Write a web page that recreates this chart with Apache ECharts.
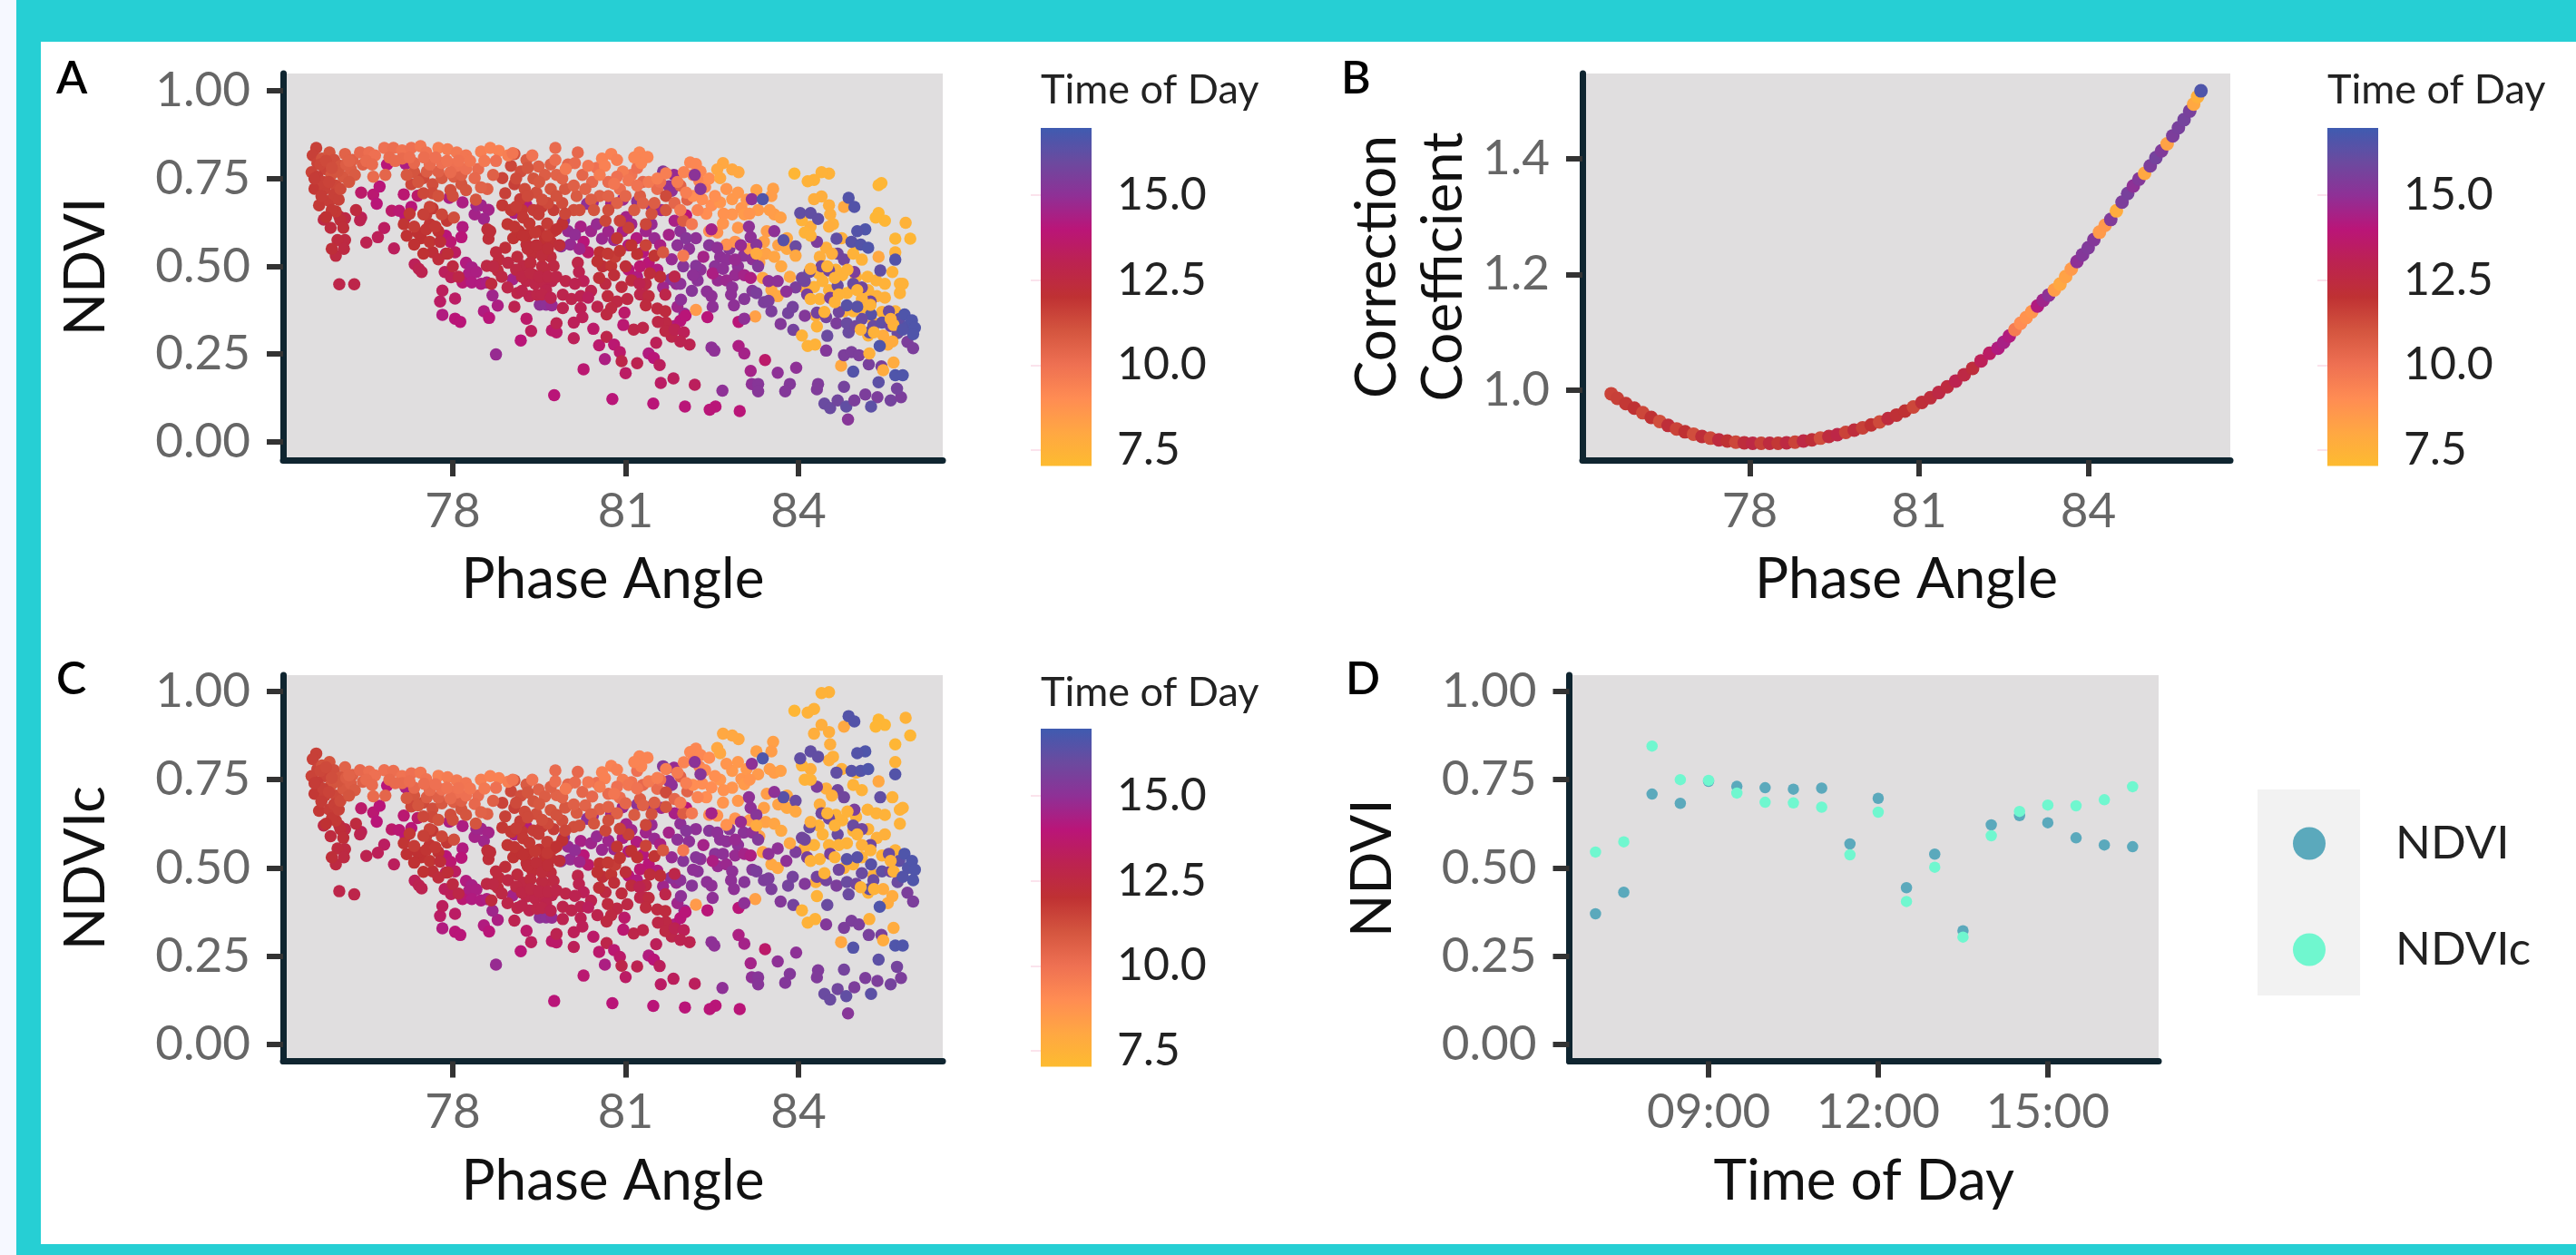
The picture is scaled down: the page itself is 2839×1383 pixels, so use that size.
<!DOCTYPE html>
<html><head><meta charset="utf-8">
<script src="https://cdn.jsdelivr.net/npm/echarts@6/dist/echarts.min.js"></script>
<style>html,body{margin:0;padding:0;background:#fff}#c{width:2839px;height:1383px}</style>
</head><body><div id="c"></div>
<script>
// Rows: [phase angle, NDVI, NDVIc (null where above 1 and absent from panel C), hour]
const magentaObs=[
[79.76,.133,.123,14],[78.75,.249,.226,14.8],[80.77,.122,.117,14],[81.48,.109,.109,14],[82.03,.101,.105,14],[80.27,.207,.195,13.8],[81,.196,.191,13.5],[80.64,.236,.226,14.3],[81.61,.168,.170,13.5],[81.83,.181,.186,13.3],[82.2,.163,.172,13.3],[79.18,.289,.264,14],[79.36,.316,.29,13.3],[79.72,.318,.293,13.6],[79.8,.312,.289,13.6],[79.8,.338,.313,13],[80.1,.295,.276,13.2],[80.44,.322,.305,13.6],[80.54,.275,.262,13.7],[80.67,.299,.287,12.8],[80.8,.277,.267,13.8],[80.9,.256,.248,13.6],[80.93,.23,.223,12.8],[81.2,.224,.221,13],[81.4,.252,.252,14.2],[81.49,.239,.24,14],[81.59,.219,.222,13.3],
[77.82,.362,.329,14.2],[78.04,.351,.319,14],[78.13,.342,.31,14],[77.78,.4,.364,13.5],[77.82,.431,.392,13.3],[78.04,.408,.37,13.5],[77.86,.484,.44,13.3],[77.97,.469,.426,13.2],[77.34,.506,.464,13.2],[77.41,.493,.451,13],[77.46,.484,.442,13],[78.54,.372,.337,14.2],[78.63,.353,.32,14],[78.78,.388,.353,14.3],[78.69,.417,.379,14.6],[79.28,.351,.322,13.6],[79.04,.463,.422,14.5],[79.51,.391,.36,15],[79.62,.391,.36,15],[79.72,.389,.359,14.8],
[78.23,.51,.463,14.2],[78.33,.497,.451,14.4],[78.28,.48,.435,14.3],[78.41,.484,.439,14.3],[78.17,.454,.412,13.8],[78.33,.454,.412,14.2],[78.49,.45,.408,14.2],[78.59,.454,.412,14.3],
[76.41,.71,.669,13.6],[76.41,.639,.602,13.2],[76.39,.631,.595,13],[76.62,.704,.657,13.8],[76.73,.727,.676,14],[76.68,.678,.631,14],[76.86,.79,.733,14],[77.18,.792,.728,14.3],[77.15,.705,.648,13.8],[77.39,.701,.641,13.6],[76.94,.658,.609,13.6],[77.07,.658,.607,13.8],[77.28,.669,.613,14],[77.18,.641,.589,14],[76.81,.609,.566,13.4],[76.7,.583,.543,13.2],[76.5,.568,.534,13],[76.98,.551,.51,13.3],
[77.94,.695,.631,14.3],[78.17,.682,.619,14.3],[78.49,.674,.611,14.6],[78.62,.661,.6,14.5],[78.54,.635,.576,14.6],[78.38,.648,.588,14.5],[78.41,.674,.611,14.6],[78.17,.612,.555,14.2],[78.15,.583,.529,14],[77.88,.587,.533,14],[77.96,.57,.517,13.8],[78.04,.54,.49,13.4],[77.88,.536,.487,13.2],[79.07,.652,.595,14.4],[79.28,.674,.617,14.2],
[80.33,.678,.639,15],[80.43,.682,.647,14.8],[79.93,.63,.587,15],[79.88,.557,.519,15],[80.04,.562,.524,14.8],[80.22,.613,.576,14.4],[80.27,.57,.536,14],[80.35,.54,.509,13.6],[80.59,.579,.551,14.7],[80.8,.575,.553,14.7],[80.75,.678,.652,14.6],[81.01,.64,.624,14.5],[81.19,.58,.574,14.2],[81.3,.54,.538,14.1],[81.05,.49,.478,14],[81.2,.47,.465,14.2],[81.45,.62,.622,14.8],[81.62,.66,.67,14.6],[81.75,.59,.6,14.5],[81.85,.63,.655,14.4],[81.88,.45,.458,14.8],[81.78,.463,.472,15],[81.95,.45,.465,15],[82.05,.645,.67,14],[82.1,.55,.575,15],[82.22,.58,.61,15],[82.15,.43,.45,15.2],[82.02,.365,.38,15],[81.9,.385,.4,14.6],[81.96,.405,.42,15],[81.85,.33,.34,14.2],[81.95,.345,.358,14],[82.04,.36,.375,14],
[81.75,.728,.746,15],[81.84,.76,.784,14.8],[81.65,.77,.788,15.3],[81.8,.715,.735,15],[81.45,.67,.674,14.9],[81.2,.685,.68,15.1],[80.95,.69,.672,14.7],
[80,.6,.56,14.8],[80.12,.59,.55,14.9],[80.2,.55,.517,14.6],[80.4,.6,.57,14.6],[80.5,.62,.589,14.8],[80.7,.6,.577,14.6],[80.95,.6,.585,14.4],[81.1,.62,.607,14.6],[81.35,.6,.6,14.6],[81.5,.58,.583,14.8],[81.6,.56,.567,14.4],[81.4,.51,.51,14],[81.55,.49,.492,14.2],[81.65,.44,.448,14.6],[81.25,.5,.496,13.8],[81.05,.56,.547,14.2],[81.9,.56,.58,15],[82,.5,.52,15.2],[81.8,.52,.53,14.8],[81.95,.6,.625,15],[82.05,.58,.605,15.2],[82.3,.49,.525,15],[82.45,.56,.605,15.2],[82.55,.5,.54,15.1],[82.8,.55,.61,15.2],[82.95,.5,.565,15],[83.05,.53,.6,15.1],[82.6,.46,.505,14.8],[82.75,.46,.51,14.7],[82.85,.44,.49,15],[83.2,.43,.495,15.3],[82.25,.46,.49,15.1]];

const redObs=[
[75.76,.633,.62,12.6],[76.03,.642,.62,12.4],[76.13,.637,.61,12.6],[76.03,.449,.434,12.8],[76.29,.449,.425,12.8],[76.32,.66,.625,12.4],[76.05,.632,.61,12.2],[75.88,.61,.59,12.4],[76.1,.61,.585,12.2],[76.13,.575,.553,12.5],[76,.575,.555,12.4],[75.97,.53,.51,12.5],[75.9,.55,.53,12.2],[76.11,.55,.53,12.5],
[78.6,.605,.549,12.2],[78.62,.579,.525,12.2],[78.91,.553,.503,12.2],[78.8,.519,.472,12.4],[78.59,.501,.455,12.6],[78.78,.488,.444,12.4],[78.67,.45,.408,12.4],
[79.12,.527,.481,12.4],[79.22,.501,.458,12.6],[79.38,.536,.492,12.2],[79.54,.553,.51,12.3],[79.7,.527,.487,12.4],[79.75,.501,.463,12.6],[79.59,.493,.455,12.5],[79.41,.475,.436,12.6],[79.28,.458,.419,12.8],[79.43,.45,.413,12.8],[79.59,.45,.415,12.8],[79.72,.458,.423,12.9],[79.12,.424,.387,12.8],[79.07,.385,.351,13],[79.33,.415,.38,13],[79.46,.419,.385,12.8],[79.62,.432,.399,12.9],[79.49,.553,.508,12.2],[79.28,.562,.514,12.2],[78.96,.51,.465,12.6],[79.5,.6,.552,12],[79.6,.58,.535,12],[79.3,.59,.54,12],[79.7,.57,.527,12.1],[79.35,.51,.468,12.4],[79.55,.5,.461,12.5],
[78.95,.62,.565,11.9],[79.05,.58,.53,12],[79.15,.6,.548,12],[79.3,.55,.505,12.2],[79.45,.56,.515,12.2],[79.55,.53,.488,12.3],[79.65,.55,.507,12.2],[79.75,.6,.555,11.9],[79.85,.56,.52,12.2],[79.1,.49,.447,12.6],[79.2,.47,.43,12.7],[79.35,.48,.44,12.6],[79.5,.47,.433,12.7],[79.65,.47,.433,12.7],[79.8,.47,.436,12.8],[78.85,.47,.428,12.6],[78.95,.44,.4,12.8],[79.2,.43,.393,12.9],[79.55,.42,.387,12.8],[79.7,.41,.379,13],[79.02,.66,.602,11.9],[79.2,.66,.603,11.8],[79.4,.66,.606,11.7],[79.55,.67,.617,11.7],[79.75,.66,.61,11.7],[79.9,.62,.578,12],
[77.15,.62,.57,11.9],[77.25,.65,.597,11.8],[77.45,.58,.53,12],[77.6,.62,.565,11.9],[77.75,.6,.545,12],[77.9,.63,.572,11.8],[77.65,.54,.49,12.2],[77.75,.52,.473,12.3],[78,.5,.454,12.5],[78.1,.47,.427,12.7],[78.7,.5,.454,12.6],[78.75,.54,.49,12.4],[78.65,.6,.545,12.2],
[80.55,.54,.513,12],[80.6,.5,.475,12.2],[80.65,.45,.431,12.5],[80.85,.58,.56,11.9],[81,.5,.488,12.2],[81.1,.46,.45,12.4],[81.1,.56,.548,12],[81.25,.42,.416,12.8],[81.35,.45,.451,12.6],[80.85,.4,.385,12.6],[80.4,.43,.407,13],[80.1,.34,.318,13.2],[81.55,.38,.382,12.5],[81.7,.34,.347,12.6],[81.8,.3,.306,12.8],
[79.01,.786,.717,11.4],[78.86,.751,.684,11.5],[79.07,.734,.67,11.6],[78.91,.708,.646,11.6],[79.17,.691,.632,11.7],[78.86,.674,.614,11.8],[79.01,.661,.603,11.8],[79.22,.639,.584,11.8],[79.07,.613,.559,11.9],[79.33,.622,.571,11.8],[79.49,.648,.596,11.7],[79.64,.622,.574,11.7],[79.43,.596,.547,11.8],[79.64,.587,.542,11.8],[79.8,.605,.56,12],[79.22,.587,.537,12],
[80.17,.51,.478,12.8],[80.19,.484,.454,13],[80.27,.458,.431,13.2],[79.96,.458,.427,12.8],[80.12,.45,.421,13],[79.91,.419,.39,12.9],[80.06,.407,.38,12.9],[80.22,.415,.39,13],[79.91,.381,.355,13],[80.22,.381,.358,13.1],[80.35,.411,.388,13.3],[80.25,.355,.334,13.2],[80.51,.385,.366,12.9],[80.69,.415,.398,12.4],[80.75,.381,.366,12.5],[80.67,.363,.348,12.5],[80.51,.514,.488,12],[80.54,.467,.444,12.2],[80.75,.501,.482,11.9],[80.82,.527,.509,11.7],[80.69,.536,.515,11.8],[80.9,.544,.528,11.9],[80.8,.475,.458,12.2],[80.93,.441,.428,12.4],[81.03,.407,.397,12.6],[81.24,.45,.446,13],[81.32,.419,.417,12.8],[81.4,.415,.415,12.4],[81.35,.389,.388,12.4],[81.14,.32,.314,12.8],[81.3,.325,.324,12.8],[80.98,.368,.359,13.6],[80.96,.333,.325,13.8],[81.69,.419,.425,12.8],[81.69,.372,.378,12.4],[81.85,.471,.483,12.8],[81.56,.342,.345,12.7],[81.69,.316,.321,12.6],[81.85,.32,.329,13],[82.01,.312,.324,13.2],[82.11,.277,.29,13],[81.95,.286,.296,13],[81.53,.282,.284,13.2],[81.6,.47,.478,12.2],[81.42,.48,.481,12.3],[81.2,.535,.53,12],[81.35,.56,.563,11.5],[81.5,.53,.533,11.9],
[77.39,.596,.545,12],[77.54,.605,.551,11.9],[77.2,.587,.539,12],[77.33,.562,.515,12],[77.49,.536,.489,12],[77.6,.57,.52,11.9],[77.78,.57,.518,12.2],[77.91,.536,.487,12.2],[77.7,.613,.558,11.8],[77.54,.648,.591,11.7],[77.65,.665,.605,11.8]];

const orangeRedObs=[
[75.63,.837,.824,11.6],[75.57,.816,.808,11.6],[75.65,.794,.78,11.5],[75.55,.768,.76,11.5],[75.73,.807,.79,11.1],[75.86,.824,.8,11],[75.94,.803,.777,11.2],[75.78,.777,.76,11.5],[75.65,.755,.742,11.7],[75.89,.76,.735,11],[75.6,.721,.71,11.8],[75.78,.721,.705,11.6],[75.97,.73,.705,11.4],[76.1,.755,.724,10.9],[75.68,.674,.662,11.8],[75.86,.686,.665,11.7],[75.94,.704,.68,11.6],[75.97,.656,.634,11.8],[76.13,.82,.785,10.5],[76.26,.803,.763,10.6],[76.39,.824,.777,10.3],[76.23,.777,.739,10.7],[76.05,.786,.756,11],[76.55,.824,.773,10.1],[76.65,.816,.762,10],[76.44,.79,.744,10.6],
[75.7,.79,.775,11.4],[75.8,.8,.785,11.3],[75.75,.74,.725,11.6],[75.6,.75,.74,11.7],[75.85,.74,.715,11.5],[76,.77,.745,11],[76.15,.79,.755,10.7],[76.3,.76,.72,10.8],[76.2,.8,.762,10.5],[76.5,.8,.75,10.2],[76.6,.79,.735,10.2],[75.9,.78,.755,11.2],[75.72,.7,.688,11.7],[75.9,.66,.64,11.8],[75.8,.64,.625,12],[76.02,.69,.665,11.6],[76.05,.72,.69,11.3],[76.2,.74,.705,11],
[77.33,.768,.705,11],[77.49,.751,.685,11.3],[77.28,.734,.674,11.4],[77.65,.734,.668,11.2],[77.81,.751,.683,10.9],[78.02,.755,.686,10.7],[78.15,.734,.666,11],[77.96,.717,.651,11.2],[77.65,.708,.644,11.3],[78.23,.717,.65,11],[77.49,.708,.646,11.4],[77.6,.669,.61,11.5],[77.81,.648,.589,11.4],[78.02,.639,.58,11.2],[77.49,.648,.591,11.6],[77.33,.613,.562,11.7],
[78.7,.76,.69,10.6],[78.6,.72,.653,10.6],[78.4,.69,.626,11],[78,.7,.636,11.2],[77.75,.7,.636,11.1],[77.4,.74,.677,11],[77.2,.76,.698,10.9],[77.55,.77,.7,10.7],[77.75,.77,.7,10.6],[78.15,.76,.69,10.6],
[79.07,.82,.748,11.1],[79.28,.803,.736,10.8],[79.49,.784,.722,10.6],[79.18,.77,.704,11.2],[79.4,.75,.689,11],[79.6,.76,.702,10.7],[79.8,.76,.706,10.5],[79.95,.72,.671,10.9],[79.7,.72,.664,11],[79.45,.71,.653,11.2],[79.25,.72,.659,11.3],[79.65,.68,.626,11.3],[79.9,.68,.634,11.2],[80.15,.7,.656,10.8],[80.1,.66,.616,11.2],[80.42,.74,.702,10.3],[80.7,.74,.71,10.2],[80.55,.7,.666,10.6],[80.9,.72,.699,10.1],[81.1,.76,.743,9.9],[81.3,.74,.735,10.3],[81.25,.7,.695,10.7],[81.55,.72,.724,10.2],[81.45,.65,.653,11.1],[81.7,.66,.673,11],[81.35,.62,.622,11.4],[81.05,.61,.595,11.6],[80.9,.63,.611,11.5],[80.65,.63,.606,11.4],[81.65,.54,.55,10.9],[82,.63,.655,10.7],[82.07,.69,.717,10.5],[81.7,.7,.714,11.3],[81.95,.73,.759,10.5],
[79.1,.75,.685,11.3],[79.3,.78,.714,11],[79.5,.74,.681,10.9],[79.7,.79,.729,10.6],[79.9,.75,.7,10.5],[80,.79,.736,10.4],[80.1,.73,.68,10.6],[80.25,.76,.715,10.4],[80.3,.72,.677,10.5],[80.4,.69,.652,10.7],[80.5,.78,.741,10],[80.7,.7,.673,10.5],[80.85,.68,.655,10.6],[81,.7,.683,10.4],[81.15,.66,.65,10.8],[81.3,.68,.678,10.6],[81.5,.68,.685,10.7],[81.6,.74,.75,10],[81.85,.68,.695,10.4],[81.2,.78,.775,10],[79.3,.7,.643,11.3],[79.55,.69,.636,11.2],[79.8,.7,.65,11.1],[79.1,.67,.612,11.7],[79.95,.65,.606,11.4],[80.2,.66,.62,11.2],[80.45,.66,.626,11],[80.7,.66,.635,11.2]];

const orangeObs=[
[76.81,.837,.777,10],[76.97,.837,.775,10.1],[77.12,.83,.76,9.9],[77.28,.837,.768,10],[77.44,.842,.77,9.8],[77.54,.824,.751,9.9],[77.75,.837,.761,9.5],[77.91,.833,.757,9.6],[78.07,.824,.748,9.7],[78.23,.816,.74,9.8],[78.49,.827,.75,9.5],[78.65,.837,.76,9.4],[78.8,.829,.754,9.4],[78.96,.816,.744,9.5],[79.04,.822,.75,9.8],[79.38,.816,.75,9.9],[79.78,.837,.776,10.2],[79.78,.803,.745,10.1],[80.17,.824,.772,10.3],[80.12,.794,.742,10.2],[80.35,.786,.743,9.8],[79.96,.777,.724,9.7],[80.59,.807,.771,9.4],[80.75,.82,.789,9.4],[80.85,.803,.778,9.5],[80.64,.786,.754,9.4],[81.24,.824,.816,9.3],[81.38,.811,.812,9.3],[81.27,.794,.788,9.3],[81.15,.81,.8,9.3],
[77.12,.807,.74,10.2],[77.33,.794,.727,10.3],[77.6,.79,.72,10.2],[77.81,.794,.722,10],[78.07,.786,.714,10],[78.23,.777,.705,10],[78.44,.777,.705,10.2],[78.38,.751,.681,10.3],[78.49,.725,.658,10.5],[77.96,.768,.697,10.2],[76.62,.755,.703,10.2],[76.83,.76,.705,10.4],
[76.9,.81,.75,10.2],[77,.8,.74,10.2],[77.25,.81,.745,10.1],[77.5,.81,.738,10.1],[77.7,.81,.737,10],[77.9,.8,.727,9.9],[78.1,.8,.726,9.9],[78.3,.8,.725,9.8],[78.55,.8,.725,9.7],[78.75,.8,.727,10],
[80.95,.77,.75,9.6],[81.05,.745,.735,9.8],[80.85,.755,.73,10],[81.2,.73,.725,9.9],[81.4,.74,.745,9.7],[81.55,.75,.755,9.5],[81.7,.765,.78,9.5],[81.9,.74,.77,9.6],[80.55,.76,.73,9.6],[80.8,.735,.71,9.8],
[82.12,.796,.828,9.2],[82.22,.791,.838,9.2],[82.01,.768,.799,9.3],[82.17,.76,.803,9.3],[82.28,.742,.787,9.3],[82.38,.726,.777,9.1],[82.17,.7,.735,9],[82.33,.691,.739,9],[82.49,.674,.728,9],[82.64,.682,.75,8.7],[82.85,.691,.775,8.6],[83.01,.665,.752,8.7],[82.85,.648,.727,8.7],[83.27,.717,.83,8.3],[83.56,.721,.857,8.3],[83.53,.7,.83,8.4],[82.9,.57,.64,8.7],[82.75,.562,.622,8.8],[82.69,.622,.685,8.7],[82.59,.596,.648,8.8],[83.06,.648,.737,8.5],[83.58,.648,.77,8.4],[83.69,.639,.775,8.3],[83.27,.536,.62,8.3],[83.43,.536,.63,8.2],[83.58,.527,.625,8.1],[83.32,.511,.59,8.3],[83.38,.467,.545,8],[83.53,.433,.51,8],[83.64,.415,.5,8],[82.22,.376,.396,8.5],[83.25,.357,.412,8.3],[82,.53,.55,9.7],
[82.05,.71,.74,9.5],[82.3,.77,.82,9.2],[82.45,.75,.812,9],[82.55,.7,.76,8.9],[82.75,.72,.795,8.7],[82.95,.71,.8,8.6],[83.1,.69,.78,8.6],[83.3,.66,.765,8.5],[83.5,.66,.78,8.4],[83.15,.65,.75,8.7],[82.7,.65,.72,8.8],[82.4,.65,.7,9],[82.25,.66,.7,9.3],[81.95,.66,.685,9.7],[82.15,.62,.655,9.7],[82.45,.6,.65,9],[82.95,.61,.69,8.6],[83.45,.6,.71,8.4],[83.65,.56,.68,8.2],[83.4,.57,.67,8.3],[83.8,.55,.67,8],[83.15,.55,.635,8.5]];

const purpleObs=[
[82.68,.146,.16,15],[82.56,.101,.11,14],[82.46,.092,.1,14],[82.98,.088,.1,14],[82.49,.269,.29,15],[82.54,.26,.28,15],[82.96,.273,.31,14.3],[83.06,.252,.285,14.5],[83.42,.233,.27,13.6],[83.17,.202,.23,14.5],[83.64,.197,.235,15],[83.96,.211,.26,15],[83.19,.165,.19,15],[83.3,.165,.19,15.2],[83.3,.144,.17,15.2],[83.85,.165,.2,15.3],[83.77,.144,.175,15.3],[84.34,.165,.21,15.4],[84.32,.15,.19,15.4],[84.45,.109,.143,16],[84.55,.096,.127,16],[84.68,.118,.157,15.8],[84.83,.101,.137,16.2],[84.97,.118,.162,15.5],[84.86,.064,.088,15.2],[84.79,.157,.212,15.7],[84.95,.2,.274,16.5],[85.16,.135,.188,15.5],[85.37,.127,.18,15.5],[85.26,.101,.143,16.3],[85.6,.118,.17,15.7],[85.78,.127,.188,15.5],[85.71,.152,.22,15.7],[85.39,.17,.24,16.3],[85.68,.19,.28,16.6],[85.81,.19,.28,16.6],[85.22,.221,.31,15.6],[85.44,.215,.31,15.6],[84.48,.26,.34,15.3],[84.79,.247,.33,15.5],[84.92,.256,.35,15.5],[85.05,.247,.34,15.5],[85.41,.273,.39,16.6],
[82.41,.428,.46,15],[82.49,.415,.45,15],[82.51,.385,.415,15],[82.42,.355,.38,14],[82.96,.342,.387,14],[83.06,.351,.4,15],[82.83,.419,.465,15],[82.88,.389,.44,15],[83.06,.407,.46,15.2],[83.27,.424,.49,15.5],[83.4,.398,.465,15.5],[83.53,.372,.44,15.5],[83.48,.402,.47,15.5],[83.69,.336,.405,15.3],[83.91,.319,.395,15.7],[83.82,.367,.45,15.7],[83.9,.384,.475,15.7],[84.11,.359,.455,15.3],[84.32,.368,.475,15.7],[84.48,.355,.465,15.7],[84.5,.302,.395,16],[84.66,.338,.45,15.5],[84.87,.312,.425,16],[84.84,.338,.46,16],[85.23,.312,.44,16.2],[85.26,.363,.51,16.4],[85.57,.372,.54,16],[85.89,.285,.43,15.5],[85.99,.267,.405,15.5],
[85,.33,.455,15.8],[85.1,.35,.485,16],[85.3,.33,.465,16],[85.45,.34,.49,16.2],[85.6,.33,.49,15.8],[85.75,.35,.52,16.2],[85.9,.33,.5,16.5],[85.72,.31,.46,16],[84.7,.37,.495,15.8],[84.55,.41,.54,15.6],[84.15,.42,.53,15.6],[83.95,.44,.545,15.5],[84.4,.5,.655,15.8],[84.95,.45,.62,16],[85.1,.44,.61,15.8],[85.25,.4,.565,15.8],[83,.56,.63,14.8],[83.2,.52,.6,15],[83.3,.5,.58,15.3],
[83.95,.557,.69,16],[83.74,.574,.7,16.4],[84.68,.536,.72,15.8],[84.79,.519,.7,15.8],[84.97,.484,.665,15.5],[84.53,.488,.64,15.8],[84.68,.445,.595,16],[84.11,.458,.58,15.8],[84.06,.467,.585,15.8],[84.19,.484,.615,16],[84.32,.57,.73,15.5],[83.19,.691,.795,15],
[82.22,.501,.53,15.2],[82.17,.475,.495,15],[82.35,.527,.565,14.5],[82.51,.48,.52,14.3],[82.49,.605,.655,14.5],[82.64,.527,.58,15],[82.75,.519,.575,15],[82.69,.493,.54,15],[82.9,.519,.58,14.8],[82.9,.475,.535,14.8],[83.06,.475,.54,14.5],[83.17,.467,.535,14.3],[83.14,.613,.7,15],[83.17,.583,.67,15],[83.27,.561,.65,15.2],[83.48,.458,.54,15],[83.64,.458,.555,15],[83.79,.428,.52,15],[83.58,.6,.715,15],[82.59,.553,.6,15],[82.2,.76,.8,15.1],[82.3,.72,.765,15.2]];

const yellowObs=[
[83.93,.764,.945,7.3],[84.16,.742,.94,7.5],[84.27,.746,.95,7.5],[84.4,.768,.995,7.5],[84.53,.764,.998,7.5],[85.44,.737,null,7.3],[85.39,.731,null,7.3],[84.27,.691,.88,7.7],[84.4,.699,.905,7.7],[84.53,.674,.885,7.7],[84.55,.648,.85,7.7],[84.53,.613,.805,7.7],[84.21,.613,.78,7.7],[84.79,.669,.9,8],[85.39,.652,.92,7.3],[85.34,.639,.9,7.3],[85.5,.63,.905,7.3],[85.86,.624,.925,7.5],[85.68,.579,.85,7.3],[85.94,.579,.875,7.3],[85.39,.527,.745,8],[85.68,.54,.8,7.5],[85.63,.484,.7,7.5],[85.76,.45,.665,7.5],[85.81,.45,.67,7.5],[85.76,.424,.625,7.5],[85.1,.519,.72,7.5],[84.95,.536,.735,7.5],[84.48,.553,.725,7.7],[84.58,.536,.705,7.7],[84.37,.527,.68,7.7],[84.21,.493,.63,7.7],[84.27,.441,.565,7.5],[84.42,.458,.595,7.5],[84.53,.432,.565,7.5],[84.63,.467,.62,7.5],[84.76,.475,.635,7.5],[84.21,.407,.52,7.5],[84.37,.407,.525,7.5],[84.63,.398,.53,7.5],[84.84,.424,.57,7.5],[85.02,.432,.595,7.5],[85.21,.432,.61,7.5],[85.1,.407,.565,7.6],[85.36,.415,.585,7.6],[85.5,.411,.595,7.6],[84.79,.372,.5,7.5],[84.95,.372,.51,7.5],[85.1,.381,.53,7.5],[85.08,.32,.445,7.5],[85.21,.303,.43,7.5],[85.31,.312,.44,7.5],[85.47,.303,.44,7.8],[85.63,.286,.42,7.8],[85.55,.277,.4,7.8],[85.65,.333,.49,7.5],[84.32,.329,.42,7.5],[84.06,.303,.38,7.5],[84.16,.273,.345,7.5],[84.29,.277,.355,7.5],[84.74,.217,.29,8],[85.23,.252,.355,7.6],[85.65,.226,.33,7.8],[85.47,.204,.295,7.8],[85.68,.372,.55,7.5],[84.06,.631,.79,7.5],[84.11,.596,.75,7.5],[84.21,.587,.75,7.5],
[84.35,.48,.62,7.5],[84.5,.5,.655,7.5],[84.65,.49,.65,7.5],[84.85,.49,.66,7.5],[85,.47,.645,7.5],[85.2,.47,.665,7.5],[85.35,.46,.655,7.5],[85.5,.45,.65,7.5],[84.95,.44,.605,7.5],[85.25,.39,.55,7.5],[85.45,.37,.535,7.5],[85.6,.35,.52,7.6],[85.3,.34,.48,7.5],[84.7,.42,.565,7.5],[84.3,.36,.46,7.6],[84.45,.37,.485,7.5],[84.1,.44,.555,7.6],[84.75,.58,.78,7.6],[84.6,.62,.815,7.6],[85,.56,.77,7.4],
[82.69,.794,.88,8],[82.85,.776,.875,8],[82.96,.768,.865,8],[82.64,.751,.825,8],[82.59,.776,.84,8],[83.27,.536,.62,7.9],[83.8,.58,.705,8],[83.95,.53,.66,8],[83.7,.5,.605,8],[83.85,.47,.57,8]];

const blueObs=[
[84.87,.695,.93,16.5],[84.97,.669,.915,16.5],[83.38,.691,.81,16.6],[84.03,.652,.81,16.2],[84.21,.652,.83,16.2],[84.34,.635,.815,16.2],[85.16,.605,.83,16.6],[85.02,.6,.825,16.5],[84.92,.57,.775,16.4],[85.08,.562,.775,16.5],[85.21,.553,.78,16.6],[84.66,.579,.77,16.2],[85.42,.488,.7,16.2],[85.68,.519,.765,16.5],[85.02,.385,.53,16.4],[84.84,.389,.525,16.4],[85.84,.363,.54,16.6],[85.97,.346,.52,16.6],[86.02,.325,.495,16.6],[85.99,.307,.465,16.6],[85.81,.32,.475,16.5]];

// Panel B: phase angle, correction coefficient, hour
const bPhase=[75.54,75.65,75.8,75.95,76.1,76.25,76.4,76.55,76.7,76.85,77,77.15,77.3,77.45,77.6,77.75,77.9,78.05,78.2,78.35,78.5,78.65,78.8,78.95,79.1,79.25,79.4,79.55,79.7,79.85,80,80.15,80.3,80.45,80.6,80.75,80.9,81.05,81.2,81.35,81.5,81.65,81.8,81.95,82.1,82.25,82.4,82.5,82.6,82.7,82.8,82.9,83,83.1,83.2,83.3,83.4,83.5,83.6,83.7,83.8,83.9,84,84.1,84.2,84.3,84.4,84.5,84.6,84.7,84.8,84.9,85,85.1,85.2,85.3,85.4,85.5,85.6,85.7,85.8,85.87,85.94,86];
const bCoef=[.993,.985,.976,.968,.96,.952,.945,.938,.932,.927,.923,.919,.916,.913,.911,.909,.908,.907,.907,.907,.907,.908,.909,.911,.913,.916,.919,.922,.926,.93,.934,.939,.944,.95,.956,.963,.97,.978,.986,.995,1.005,1.015,1.026,1.037,1.05,1.063,1.072,1.082,1.093,1.104,1.115,1.125,1.135,1.145,1.155,1.164,1.173,1.183,1.196,1.209,1.222,1.234,1.246,1.26,1.273,1.285,1.295,1.31,1.325,1.34,1.353,1.365,1.375,1.388,1.402,1.414,1.426,1.44,1.454,1.468,1.483,1.495,1.508,1.518];
const bHour=[11.5,11.6,11.8,12,11.4,12,11.2,12.2,11.5,12,11.2,12.2,11.4,12.4,12,11.4,12.3,12.6,11.6,12.4,11.8,12.5,11.5,12.6,12.2,11.2,12.4,12.7,11.5,12.3,11.6,12,11.3,12.4,12.1,12,11.4,12.2,12.3,12.6,12.4,13,12.6,12.3,13.2,13.5,14.2,14.4,14.2,9.6,9,8.8,8.7,14.2,14.6,15,8.4,8,8.2,8.5,15,15.3,15.4,15.3,8.5,8.6,15.4,7.8,15.5,15.6,15,15.3,8,15.5,15.7,15.4,8.2,15.5,15.6,15.7,15.6,8,7.6,16.6];

// Panel D: half-hourly means
const dHour=[7,7.5,8,8.5,9,9.5,10,10.5,11,11.5,12,12.5,13,13.5,14,14.5,15,15.5,16,16.5];
const dNdvi=[.37,.431,.709,.683,.745,.731,.727,.723,.726,.568,.697,.444,.539,.322,.622,.648,.628,.585,.565,.56];
const dNdvic=[.545,.574,.845,.75,.748,.712,.686,.684,.672,.537,.658,.405,.502,.304,.591,.66,.678,.676,.693,.73];

const phaseTicks=[78,81,84];
const ndviTicks=[0,.25,.5,.75,1];
const coefTicks=[1,1.2,1.4];
const hourTicks=[9,12,15];
const colorTicks=[7.5,10,12.5,15];
const timeColors=['#FDBB30','#FFA743','#FF8C53','#EE7052','#D4553F','#BF3133','#BC2350','#BA1578','#8F3096','#6B4A9F','#3F5BB0'];
const hourRange=[7.04,16.96];

// Draw order: morning dots on the right sit both under and over the afternoon ones
const yellowUnder=yellowObs.filter((r,i)=>i%2===0), yellowOver=yellowObs.filter((r,i)=>i%2===1);
const obs=[...magentaObs,...redObs,...orangeRedObs,...orangeObs,...yellowUnder,...purpleObs,...yellowOver,...blueObs];
const font='Lato';
const dark='#0F2530', tick='#333333', plotBg='#E0DEDF';
const tickText={fontFamily:font,fontSize:53,color:'#666',fontWeight:400};
const nameText={fontFamily:font,fontSize:62,color:'#111',fontWeight:400};
const grids=[
 {left:312,top:81,width:727,height:426},
 {left:1744,top:81,width:714,height:426},
 {left:312,top:744,width:727,height:425.5},
 {left:1729.5,top:744,width:649.5,height:425.5},
];
grids.forEach(g=>{g.show=true;g.backgroundColor=plotBg;g.borderWidth=0;});
function xA(i,min,max,ticks,name,fmt){return {type:'value',gridIndex:i,min,max,name,nameLocation:'middle',nameGap:101,nameTextStyle:nameText,
 axisLine:{show:true,onZero:false,lineStyle:{color:dark,width:7}},splitLine:{show:false},
 axisTick:{show:true,length:18,customValues:ticks,lineStyle:{color:tick,width:6}},
 axisLabel:{...tickText,margin:30,customValues:ticks,formatter:fmt}};}
function yA(i,min,max,ticks,name,fmt,gap){return {type:'value',gridIndex:i,min,max,name,nameLocation:'middle',nameGap:gap,nameRotate:90,nameTextStyle:{...nameText,fontSize:62,lineHeight:73},
 axisLine:{show:true,onZero:false,lineStyle:{color:dark,width:7}},splitLine:{show:false},
 axisTick:{show:true,length:18,customValues:ticks,lineStyle:{color:tick,width:6}},
 axisLabel:{...tickText,margin:36,customValues:ticks,formatter:fmt}};}
const f0=v=>String(v), f2=v=>v.toFixed(2), f1=v=>v.toFixed(1), fh=v=>(v<10?'0':'')+v+':00';
const xAxes=[
 xA(0,75.055,86.504,phaseTicks,'Phase Angle',f0),
 xA(1,75.03,86.52,phaseTicks,'Phase Angle',f0),
 xA(2,75.055,86.504,phaseTicks,'Phase Angle',f0),
 xA(3,6.536,16.96,hourTicks,'Time of Day',fh),
];
const yAxes=[
 yA(0,-.0517,1.049,ndviTicks,'NDVI',f2,181),
 yA(1,.878,1.548,coefTicks,'Correction\nCoefficient',f1,117),
 yA(2,-.0476,1.046,ndviTicks,'NDVIc',f2,181),
 yA(3,-.0476,1.046,ndviTicks,'NDVI',f2,180),
];
// Colour bars: small grids with their own value axis
const barStops=timeColors.map((c,i)=>({offset:1-i/(timeColors.length-1),color:c}));
const barGrad=new echarts.graphic.LinearGradient(0,0,0,1,barStops);
[[1147,141],[2565,141],[1147,803]].forEach(([l,t])=>{
 const gi=grids.length;
 grids.push({left:l,top:t,width:56,height:372.5,show:true,backgroundColor:barGrad,borderWidth:0,z:2});
 xAxes.push({type:'value',gridIndex:gi,min:0,max:1,show:false});
 const base={type:'value',gridIndex:gi,min:hourRange[0],max:hourRange[1],splitLine:{show:false},axisLine:{show:false}};
 yAxes.push({...base,position:'right',
   axisTick:{show:true,inside:true,length:11,customValues:colorTicks,lineStyle:{color:'#FBE3EC',width:2}},
   axisLabel:{fontFamily:font,fontSize:50,color:'#222',fontWeight:400,margin:28,customValues:colorTicks,formatter:f1}});
 yAxes.push({...base,position:'left',
   axisTick:{show:true,inside:true,length:11,customValues:colorTicks,lineStyle:{color:'#FBE3EC',width:2}},
   axisLabel:{show:false}});
});
const sym=13.5;
const series=[
 {type:'scatter',xAxisIndex:0,yAxisIndex:0,symbolSize:sym,data:obs.map(r=>[r[0],r[1],r[3]]),encode:{x:0,y:1},itemStyle:{opacity:1}},
 {type:'scatter',xAxisIndex:1,yAxisIndex:1,symbolSize:15,data:bPhase.map((p,i)=>[p,bCoef[i],bHour[i]]),encode:{x:0,y:1},itemStyle:{opacity:1}},
 {type:'scatter',xAxisIndex:2,yAxisIndex:2,symbolSize:sym,data:obs.filter(r=>r[2]!==null).map(r=>[r[0],r[2],r[3]]),encode:{x:0,y:1},itemStyle:{opacity:1}},
 {type:'scatter',name:'NDVI',xAxisIndex:3,yAxisIndex:3,symbolSize:12.5,data:dHour.map((h,i)=>[h,dNdvi[i]]),itemStyle:{color:'#5BA9BC',opacity:1}},
 {type:'scatter',name:'NDVIc',xAxisIndex:3,yAxisIndex:3,symbolSize:12.5,data:dHour.map((h,i)=>[h,dNdvic[i]]),itemStyle:{color:'#70F7CF',opacity:1}},
];
const letter={fontFamily:font,fontSize:50,color:'#000',fontWeight:600};
const legendTitle={fontFamily:font,fontSize:45,color:'#222',fontWeight:400};
const chart=echarts.init(document.getElementById('c'),null,{renderer:'canvas'});
chart.setOption({
 animation:false,
 backgroundColor:'#26CFD4',
 graphic:[
  {type:'rect',z:-10,silent:true,shape:{x:45,y:46,width:2794,height:1325},style:{fill:'#fff'}},
  {type:'rect',z:-10,silent:true,shape:{x:0,y:0,width:18,height:1383},style:{fill:'#F6F8FF'}},
  {type:'rect',z:-5,silent:true,shape:{x:2488,y:870,width:113,height:227},style:{fill:'#F2F2F2'}},
 ],
 title:[
  {text:'A',left:57,top:57,textStyle:letter},
  {text:'B',left:1473,top:57,textStyle:letter},
  {text:'C',left:57,top:719,textStyle:letter},
  {text:'D',left:1478,top:719,textStyle:letter},
  {text:'Time of Day',left:1147,top:77,padding:0,textStyle:legendTitle},
  {text:'Time of Day',left:2565,top:77,padding:0,textStyle:legendTitle},
  {text:'Time of Day',left:1147,top:741,padding:0,textStyle:legendTitle},
 ],
 grid:grids,xAxis:xAxes,yAxis:yAxes,series,
 visualMap:[{type:'continuous',show:false,seriesIndex:[0,1,2],dimension:2,min:hourRange[0],max:hourRange[1],inRange:{color:timeColors}}],
 legend:{show:true,data:['NDVI','NDVIc'],orient:'vertical',left:2527,top:904,padding:0,icon:'circle',itemWidth:36,itemHeight:36,itemGap:66,selectedMode:false,
  textStyle:{fontFamily:font,fontSize:51,color:'#222',fontWeight:400,padding:[0,0,0,72]}},
});
</script></body></html>
